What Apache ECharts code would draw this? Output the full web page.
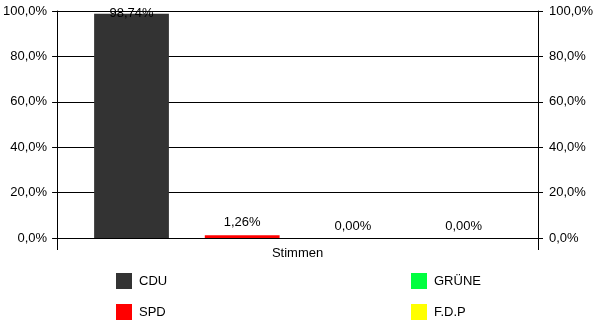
<!DOCTYPE html>
<html><head><meta charset="utf-8">
<script src="https://cdn.jsdelivr.net/npm/echarts@6/dist/echarts.min.js"></script>
<style>html,body{margin:0;padding:0;background:#fff}#c{width:600px;height:333px}</style>
</head><body><div id="c"></div>
<script>
const categories = ['Stimmen'];
const parties = ['CDU', 'SPD', 'GRÜNE', 'F.D.P'];
const values = [98.74, 1.26, 0.00, 0.00];
const colors = ['#333333', '#ff0000', '#00ff40', '#ffff00'];
const yTicks = [0, 20, 40, 60, 80, 100];

const font = 'Arial, "Liberation Sans", sans-serif';
const fs = 13;
const pct1 = v => v.toFixed(1).replace('.', ',') + '%';
const pct2 = v => v.toFixed(2).replace('.', ',') + '%';

const yAxisBase = {
  type: 'value', min: yTicks[0], max: yTicks[yTicks.length - 1], interval: yTicks[1] - yTicks[0],
  axisLine: { show: true, lineStyle: { color: '#000', width: 1 } },
  axisTick: { show: true, length: 5, lineStyle: { color: '#000' } },
  axisLabel: { formatter: pct1, color: '#000', fontFamily: font, fontSize: fs, margin: 10 },
  splitLine: { show: true, lineStyle: { color: '#000', width: 1 } }
};

const series = parties.map((p, i) => ({
  name: p, type: 'bar',
  barGap: '48%', barCategoryGap: '15.4%',
  itemStyle: { color: colors[i] },
  label: {
    show: true, position: 'top', distance: i === 0 ? -6 : (values[i] === 0 ? 5 : 6),
    formatter: d => pct2(d.value), color: '#000', fontFamily: font, fontSize: fs
  },
  data: [values[i]]
}));

const legendText = { color: '#000', fontFamily: font, fontSize: fs, padding: [0, 0, 0, 2] };

const chart = echarts.init(document.getElementById('c'), null, { renderer: 'canvas' });
chart.setOption({
  animation: false,
  backgroundColor: '#fff',
  grid: { left: 57, right: 62, top: 11, bottom: 95, containLabel: false },
  xAxis: {
    type: 'category', data: categories, boundaryGap: true,
    axisLine: { show: true, lineStyle: { color: '#000' } },
    axisTick: { show: true, length: 12, lineStyle: { color: '#000' } },
    axisLabel: { color: '#000', fontFamily: font, fontSize: fs, margin: 9 }
  },
  yAxis: [
    Object.assign({}, yAxisBase, { position: 'left' }),
    Object.assign({}, yAxisBase, { position: 'right', splitLine: { show: false },
      axisLabel: Object.assign({}, yAxisBase.axisLabel, { margin: 11 }) })
  ],
  legend: [
    { data: parties.slice(0, 2), orient: 'vertical', left: 116, top: 273, itemWidth: 16, itemHeight: 16, itemGap: 15,
      icon: 'rect', textStyle: legendText, padding: 0 },
    { data: parties.slice(2), orient: 'vertical', left: 411, top: 273, itemWidth: 16, itemHeight: 16, itemGap: 15,
      icon: 'rect', textStyle: legendText, padding: 0 }
  ],
  series: series
});
</script></body></html>
